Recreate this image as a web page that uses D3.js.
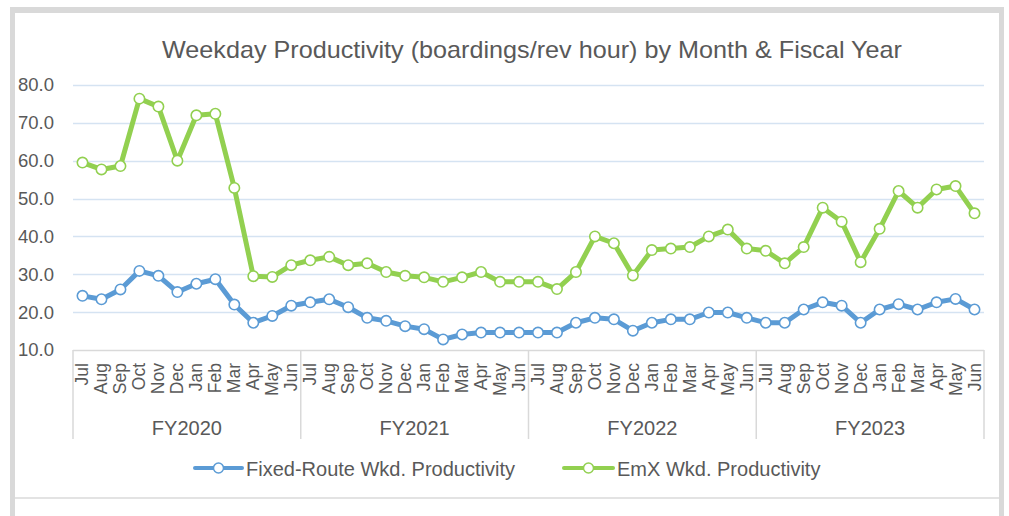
<!DOCTYPE html>
<html>
<head>
<meta charset="utf-8">
<script src="https://cdn.jsdelivr.net/npm/d3@7"></script>
<style>
  html, body { margin: 0; padding: 0; background: #ffffff; }
  svg { display: block; font-family: "Liberation Sans", Arial, sans-serif; }
</style>
</head>
<body>
<svg id="chart" width="1009" height="516"></svg>
<script>
// ---- data ----
const fiscalYears = ["FY2020", "FY2021", "FY2022", "FY2023"];
const months = ["Jul", "Aug", "Sep", "Oct", "Nov", "Dec", "Jan", "Feb", "Mar", "Apr", "May", "Jun"];
const fixedRoute = [
  24.3, 23.4, 26.0, 30.9, 29.6, 25.3, 27.5, 28.7, 22.0, 17.2, 19.0, 21.7,
  22.6, 23.4, 21.3, 18.5, 17.7, 16.3, 15.5, 12.8, 14.1, 14.6, 14.6, 14.6,
  14.6, 14.6, 17.2, 18.5, 18.1, 15.1, 17.2, 18.1, 18.1, 19.9, 19.9, 18.5,
  17.2, 17.2, 20.7, 22.6, 21.7, 17.2, 20.7, 22.1, 20.7, 22.6, 23.5, 20.7
];
const emx = [
  59.5, 57.7, 58.6, 76.4, 74.3, 60.0, 72.0, 72.4, 52.8, 29.5, 29.3, 32.4,
  33.7, 34.6, 32.4, 32.9, 30.6, 29.6, 29.2, 28.0, 29.2, 30.6, 28.0, 28.0,
  28.0, 26.1, 30.6, 40.0, 38.2, 29.7, 36.4, 36.8, 37.2, 40.0, 41.8, 36.8,
  36.2, 32.9, 37.2, 47.6, 43.9, 33.2, 42.0, 52.0, 47.6, 52.4, 53.3, 46.1
];
const yTicks = [10, 20, 30, 40, 50, 60, 70, 80];
const seriesNames = ["Fixed-Route Wkd. Productivity", "EmX Wkd. Productivity"];
const seriesColors = ["#5b9bd5", "#92d050"];
const titleText = "Weekday Productivity (boardings/rev hour) by Month & Fiscal Year";

// ---- layout ----
const svg = d3.select("#chart");
const plot = { left: 73, right: 984, top: 85, bottom: 350 };
const textColor = "#595959";

// frame
svg.append("rect").attr("x", 0).attr("y", 0).attr("width", 1009).attr("height", 516).attr("fill", "#ffffff");
svg.append("rect").attr("x", 10).attr("y", 7).attr("width", 994).attr("height", 6).attr("fill", "#d9d9d9");
svg.append("rect").attr("x", 10).attr("y", 7).attr("width", 5).attr("height", 509).attr("fill", "#d9d9d9");
svg.append("rect").attr("x", 999).attr("y", 7).attr("width", 5).attr("height", 509).attr("fill", "#d9d9d9");
svg.append("rect").attr("x", 15).attr("y", 497).attr("width", 984).attr("height", 2).attr("fill", "#e3e3e3");

// keys for each point
const keys = [];
fiscalYears.forEach(fy => months.forEach(m => keys.push(fy + "|" + m)));

const x = d3.scaleBand().domain(keys).range([plot.left, plot.right]).padding(0);
const y = d3.scaleLinear().domain([10, 80]).range([plot.bottom, plot.top]);

// title
svg.append("text")
  .attr("x", 532).attr("y", 58)
  .attr("text-anchor", "middle")
  .attr("font-size", 24)
  .attr("textLength", 740)
  .attr("lengthAdjust", "spacingAndGlyphs")
  .attr("fill", textColor)
  .text(titleText);

// gridlines
svg.append("g").selectAll("line")
  .data(yTicks.filter(t => t > 10))
  .join("line")
  .attr("x1", plot.left).attr("x2", plot.right)
  .attr("y1", d => Math.round(y(d)) + 0.5).attr("y2", d => Math.round(y(d)) + 0.5)
  .attr("stroke", "#d5e3f2").attr("stroke-width", 1.5);

// y axis labels
const yAxis = d3.axisLeft(y).tickValues(yTicks).tickFormat(d3.format(".1f")).tickSize(0).tickPadding(0);
const gy = svg.append("g").attr("transform", "translate(54,0)").call(yAxis);
gy.select(".domain").remove();
gy.selectAll("text").attr("font-size", 18.5).attr("fill", textColor).attr("font-family", "Liberation Sans, Arial, sans-serif");

// x axis line
svg.append("line")
  .attr("x1", plot.left).attr("x2", plot.right)
  .attr("y1", plot.bottom + 0.5).attr("y2", plot.bottom + 0.5)
  .attr("stroke", "#d9d9d9").attr("stroke-width", 1.5);

// year separators
const yearBounds = fiscalYears.map((fy, i) => x(fy + "|Jul"));
yearBounds.push(plot.right);
svg.append("g").selectAll("line")
  .data(yearBounds)
  .join("line")
  .attr("x1", d => d).attr("x2", d => d)
  .attr("y1", plot.bottom).attr("y2", 439)
  .attr("stroke", "#d9d9d9").attr("stroke-width", 1.5);

// month labels
svg.append("g").selectAll("text")
  .data(keys)
  .join("text")
  .attr("transform", d => `translate(${x(d) + x.bandwidth() / 2 + 6},363) rotate(-90)`)
  .attr("text-anchor", "end")
  .attr("font-size", 17.5)
  .attr("fill", textColor)
  .text(d => d.split("|")[1]);

// FY labels
svg.append("g").selectAll("text")
  .data(fiscalYears)
  .join("text")
  .attr("x", (d, i) => (yearBounds[i] + yearBounds[i + 1]) / 2)
  .attr("y", 435)
  .attr("text-anchor", "middle")
  .attr("font-size", 20)
  .attr("fill", textColor)
  .text(d => d);

// series
const series = [fixedRoute, emx];
const line = d3.line()
  .x((d, i) => x(keys[i]) + x.bandwidth() / 2)
  .y(d => y(d));

series.forEach((vals, s) => {
  const g = svg.append("g");
  g.append("path")
    .attr("d", line(vals))
    .attr("fill", "none")
    .attr("stroke", seriesColors[s])
    .attr("stroke-width", 5)
    .attr("stroke-linejoin", "round")
    .attr("stroke-linecap", "round");
  g.selectAll("circle")
    .data(vals)
    .join("circle")
    .attr("cx", (d, i) => x(keys[i]) + x.bandwidth() / 2)
    .attr("cy", d => y(d))
    .attr("r", 5.2)
    .attr("fill", "#ffffff")
    .attr("stroke", seriesColors[s])
    .attr("stroke-width", 1.6);
});

// legend
const legendItems = [
  { x1: 195, x2: 242, tx: 246 },
  { x1: 564, x2: 613, tx: 617 }
];
legendItems.forEach((li, s) => {
  const g = svg.append("g");
  g.append("line")
    .attr("x1", li.x1).attr("x2", li.x2)
    .attr("y1", 468).attr("y2", 468)
    .attr("stroke", seriesColors[s]).attr("stroke-width", 4)
    .attr("stroke-linecap", "round");
  g.append("circle")
    .attr("cx", (li.x1 + li.x2) / 2).attr("cy", 468).attr("r", 5)
    .attr("fill", "#ffffff").attr("stroke", seriesColors[s]).attr("stroke-width", 1.5);
  g.append("text")
    .attr("x", li.tx).attr("y", 475.5)
    .attr("font-size", 20)
    .attr("fill", textColor)
    .text(seriesNames[s]);
});
</script>
</body>
</html>
